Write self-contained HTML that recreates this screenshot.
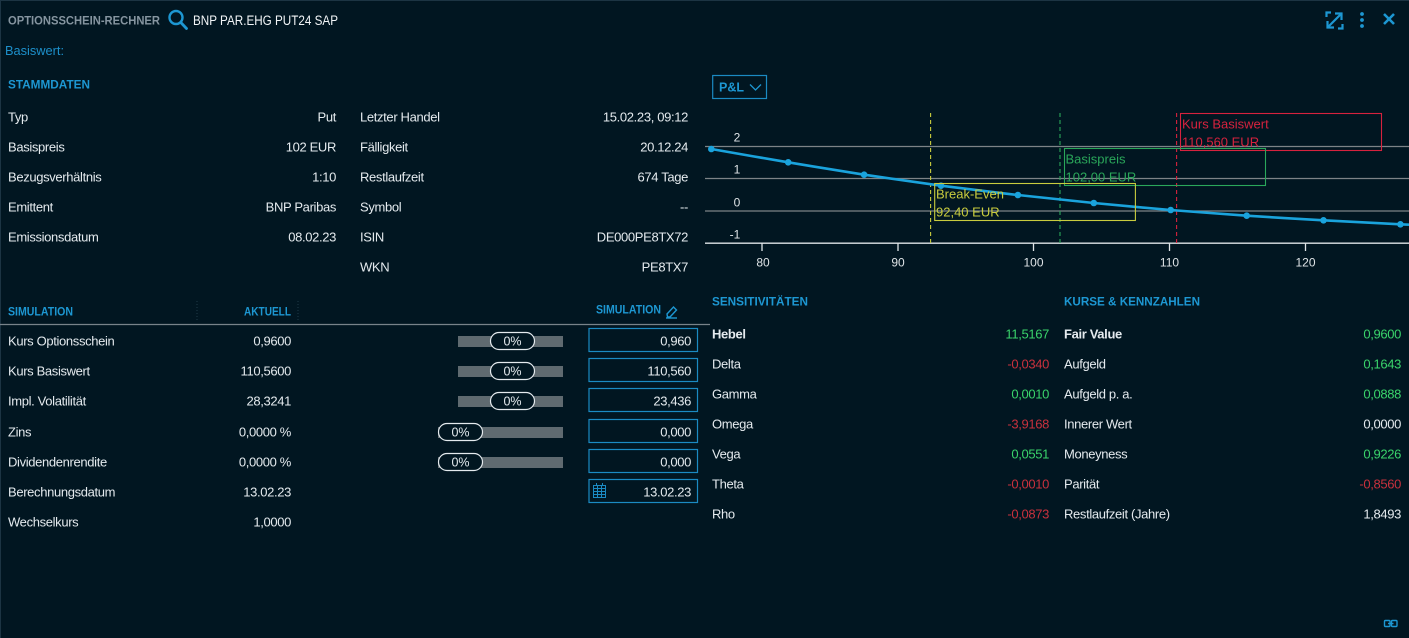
<!DOCTYPE html>
<html>
<head>
<meta charset="utf-8">
<style>
html,body{margin:0;padding:0;background:#011621;}
body{width:1409px;height:638px;overflow:hidden;}
svg{display:block;font-family:"Liberation Sans",sans-serif;}
.w{fill:#e4eaee;font-size:13px;letter-spacing:-0.35px;}
.b{font-weight:bold;}
.hd{fill:#1d97d2;font-weight:bold;font-size:12px;}
.g{fill:#3ad46b;font-size:13px;letter-spacing:-0.35px;}
.r{fill:#c8313d;font-size:13px;letter-spacing:-0.35px;}
</style>
</head>
<body>
<svg width="1409" height="638" viewBox="0 0 1409 638" xmlns="http://www.w3.org/2000/svg">
<rect x="0" y="0" width="1409" height="638" fill="#011621"/>
<rect x="0.5" y="0.5" width="1409" height="640" fill="none" stroke="#1c3443" stroke-width="1"/>

<!-- Header -->
<text x="8" y="20.5" dominant-baseline="central" fill="#8695a0" font-weight="bold" font-size="12" textLength="152" lengthAdjust="spacingAndGlyphs">OPTIONSSCHEIN-RECHNER</text>
<circle cx="176" cy="17.5" r="6.5" fill="none" stroke="#1d97d2" stroke-width="2.4"/>
<line x1="180.8" y1="22.5" x2="186.5" y2="28.5" stroke="#1d97d2" stroke-width="2.8" stroke-linecap="round"/>
<text x="193" y="20.5" dominant-baseline="central" fill="#f2f5f7" font-size="13.5" textLength="145" lengthAdjust="spacingAndGlyphs">BNP PAR.EHG PUT24 SAP</text>

<!-- top right icons -->
<g stroke="#1d97d2" stroke-width="2.2" fill="none">
<polyline points="1326.5,17 1326.5,12.5 1331,12.5"/>
<polyline points="1342.5,24 1342.5,28.5 1338,28.5"/>
<line x1="1328" y1="27" x2="1341" y2="14"/>
<polyline points="1335,13.5 1341.5,13.5 1341.5,20"/>
<polyline points="1327.5,21 1327.5,27.5 1334,27.5"/>
<line x1="1384" y1="14" x2="1394" y2="24" stroke-width="2.6"/>
<line x1="1394" y1="14" x2="1384" y2="24" stroke-width="2.6"/>
</g>
<g fill="#1d97d2"><circle cx="1362" cy="14" r="1.9"/><circle cx="1362" cy="20" r="1.9"/><circle cx="1362" cy="26" r="1.9"/></g>

<text x="5" y="50.5" dominant-baseline="central" fill="#1d90cb" font-size="13" textLength="59" lengthAdjust="spacingAndGlyphs">Basiswert:</text>

<!-- STAMMDATEN -->
<text x="8" y="84.5" dominant-baseline="central" class="hd" textLength="82" lengthAdjust="spacingAndGlyphs">STAMMDATEN</text>
<g dominant-baseline="central" transform="translate(0,1)">
<text x="8" y="116" class="w">Typ</text>
<text x="336" y="116" class="w" text-anchor="end">Put</text>
<text x="8" y="146" class="w">Basispreis</text>
<text x="336" y="146" class="w" text-anchor="end">102 EUR</text>
<text x="8" y="176" class="w">Bezugsverhältnis</text>
<text x="336" y="176" class="w" text-anchor="end">1:10</text>
<text x="8" y="206" class="w">Emittent</text>
<text x="336" y="206" class="w" text-anchor="end">BNP Paribas</text>
<text x="8" y="236" class="w">Emissionsdatum</text>
<text x="336" y="236" class="w" text-anchor="end">08.02.23</text>

<text x="360" y="116" class="w">Letzter Handel</text>
<text x="688" y="116" class="w" text-anchor="end">15.02.23, 09:12</text>
<text x="360" y="146" class="w">Fälligkeit</text>
<text x="688" y="146" class="w" text-anchor="end">20.12.24</text>
<text x="360" y="176" class="w">Restlaufzeit</text>
<text x="688" y="176" class="w" text-anchor="end">674 Tage</text>
<text x="360" y="206" class="w">Symbol</text>
<text x="688" y="206" class="w" text-anchor="end">--</text>
<text x="360" y="236" class="w">ISIN</text>
<text x="688" y="236" class="w" text-anchor="end">DE000PE8TX72</text>
<text x="360" y="266" class="w">WKN</text>
<text x="688" y="266" class="w" text-anchor="end">PE8TX7</text>
</g>

<!-- SIMULATION -->
<text x="8" y="312.5" dominant-baseline="central" fill="#1d97d2" font-weight="bold" font-size="11.5" textLength="65" lengthAdjust="spacingAndGlyphs">SIMULATION</text>
<text x="244" y="312.5" dominant-baseline="central" fill="#1d97d2" font-weight="bold" font-size="11.5" textLength="47" lengthAdjust="spacingAndGlyphs">AKTUELL</text>
<text x="596" y="310.5" dominant-baseline="central" fill="#1d97d2" font-weight="bold" font-size="11.5" textLength="65" lengthAdjust="spacingAndGlyphs">SIMULATION</text>
<g stroke="#1d97d2" stroke-width="1.4" fill="none">
<path d="M667,314 L673.5,307 L676.5,310 L670,317 L667.5,317 Z"/>
<line x1="666" y1="318" x2="677" y2="318"/>
</g>
<line x1="197" y1="301" x2="197" y2="322" stroke="#1f3a48" stroke-width="1" stroke-dasharray="1,2"/>
<line x1="298" y1="301" x2="298" y2="322" stroke="#1f3a48" stroke-width="1" stroke-dasharray="1,2"/>
<line x1="0" y1="324.5" x2="710" y2="324.5" stroke="#78838a" stroke-width="1.2"/>

<g dominant-baseline="central" transform="translate(0,1)">
<text x="8" y="340" class="w">Kurs Optionsschein</text>
<text x="291" y="340" class="w" text-anchor="end">0,9600</text>
<text x="8" y="370" class="w">Kurs Basiswert</text>
<text x="291" y="370" class="w" text-anchor="end">110,5600</text>
<text x="8" y="400" class="w">Impl. Volatilität</text>
<text x="291" y="400" class="w" text-anchor="end">28,3241</text>
<text x="8" y="431" class="w">Zins</text>
<text x="291" y="431" class="w" text-anchor="end">0,0000 %</text>
<text x="8" y="461" class="w">Dividendenrendite</text>
<text x="291" y="461" class="w" text-anchor="end">0,0000 %</text>
<text x="8" y="491" class="w">Berechnungsdatum</text>
<text x="291" y="491" class="w" text-anchor="end">13.02.23</text>
<text x="8" y="521" class="w">Wechselkurs</text>
<text x="291" y="521" class="w" text-anchor="end">1,0000</text>
</g>

<!-- sliders -->
<g>
<rect x="458" y="336" width="105" height="11" fill="#5f6a70"/>
<rect x="490.5" y="332.5" width="44" height="17" rx="8.5" fill="#011621" stroke="#e4eaee" stroke-width="1.2"/>
<text x="512.5" y="341.5" dominant-baseline="central" text-anchor="middle" fill="#e4eaee" font-size="12.5">0%</text>

<rect x="458" y="366" width="105" height="11" fill="#5f6a70"/>
<rect x="490.5" y="362.5" width="44" height="17" rx="8.5" fill="#011621" stroke="#e4eaee" stroke-width="1.2"/>
<text x="512.5" y="371.5" dominant-baseline="central" text-anchor="middle" fill="#e4eaee" font-size="12.5">0%</text>

<rect x="458" y="396" width="105" height="11" fill="#5f6a70"/>
<rect x="490.5" y="392.5" width="44" height="17" rx="8.5" fill="#011621" stroke="#e4eaee" stroke-width="1.2"/>
<text x="512.5" y="401.5" dominant-baseline="central" text-anchor="middle" fill="#e4eaee" font-size="12.5">0%</text>

<rect x="438" y="427" width="125" height="11" fill="#5f6a70"/>
<rect x="438.5" y="423.5" width="44" height="17" rx="8.5" fill="#011621" stroke="#e4eaee" stroke-width="1.2"/>
<text x="460.5" y="432.5" dominant-baseline="central" text-anchor="middle" fill="#e4eaee" font-size="12.5">0%</text>

<rect x="438" y="457" width="125" height="11" fill="#5f6a70"/>
<rect x="438.5" y="453.5" width="44" height="17" rx="8.5" fill="#011621" stroke="#e4eaee" stroke-width="1.2"/>
<text x="460.5" y="462.5" dominant-baseline="central" text-anchor="middle" fill="#e4eaee" font-size="12.5">0%</text>
</g>

<!-- inputs -->
<g fill="none" stroke="#1b8ac2" stroke-width="1.2">
<rect x="589" y="328.5" width="108.5" height="23"/>
<rect x="589" y="358.5" width="108.5" height="23"/>
<rect x="589" y="388.5" width="108.5" height="23"/>
<rect x="589" y="419.5" width="108.5" height="23"/>
<rect x="589" y="449.5" width="108.5" height="23"/>
<rect x="589" y="479.5" width="108.5" height="23"/>
</g>
<g dominant-baseline="central" transform="translate(0,0.5)">
<text x="691" y="340.5" class="w" text-anchor="end">0,960</text>
<text x="691" y="370.5" class="w" text-anchor="end">110,560</text>
<text x="691" y="400.5" class="w" text-anchor="end">23,436</text>
<text x="691" y="431.5" class="w" text-anchor="end">0,000</text>
<text x="691" y="461.5" class="w" text-anchor="end">0,000</text>
<text x="691" y="491.5" class="w" text-anchor="end">13.02.23</text>
</g>
<!-- calendar icon -->
<g stroke="#1b8ac2" stroke-width="1" fill="none">
<rect x="593.5" y="485.5" width="12" height="12"/>
<line x1="593.5" y1="488.5" x2="605.5" y2="488.5"/>
<line x1="593.5" y1="491.5" x2="605.5" y2="491.5"/>
<line x1="593.5" y1="494.5" x2="605.5" y2="494.5"/>
<line x1="597.5" y1="485.5" x2="597.5" y2="497.5"/>
<line x1="601.5" y1="485.5" x2="601.5" y2="497.5"/>
<line x1="596.5" y1="483" x2="596.5" y2="486"/>
<line x1="602.5" y1="483" x2="602.5" y2="486"/>
</g>

<!-- CHART -->
<rect x="712.7" y="75.5" width="53.8" height="23" fill="none" stroke="#1b8ac2" stroke-width="1.2"/>
<text x="719" y="87.5" dominant-baseline="central" fill="#1d97d2" font-weight="bold" font-size="12.5">P&amp;L</text>
<polyline points="750,84.5 755.5,90 761,84.5" fill="none" stroke="#1d97d2" stroke-width="1.3"/>

<g stroke="#7d8387" stroke-width="1.2">
<line x1="705" y1="146.5" x2="1409" y2="146.5"/>
<line x1="705" y1="178.5" x2="1409" y2="178.5"/>
<line x1="705" y1="211" x2="1409" y2="211"/>
</g>
<line x1="705" y1="243.2" x2="1409" y2="243.2" stroke="#dfe4e7" stroke-width="1.4"/>
<g stroke="#dfe4e7" stroke-width="1.3">
<line x1="762" y1="243" x2="762" y2="251"/>
<line x1="898" y1="243" x2="898" y2="251"/>
<line x1="1033.5" y1="243" x2="1033.5" y2="251"/>
<line x1="1169.5" y1="243" x2="1169.5" y2="251"/>
<line x1="1305.5" y1="243" x2="1305.5" y2="251"/>
</g>
<g fill="#dfe4e7" font-size="12" dominant-baseline="central" text-anchor="middle">
<text x="737" y="137.5">2</text>
<text x="737" y="169.5">1</text>
<text x="737" y="202.5">0</text>
<text x="735" y="234.5">-1</text>
<text x="763" y="262.5">80</text>
<text x="898" y="262.5">90</text>
<text x="1033.5" y="262.5">100</text>
<text x="1169.5" y="262.5">110</text>
<text x="1305.5" y="262.5">120</text>
</g>

<!-- dashed lines -->
<line x1="930.6" y1="113" x2="930.6" y2="243" stroke="#c9cc3e" stroke-width="1.1" stroke-dasharray="4,3"/>
<line x1="1060" y1="113" x2="1060" y2="243" stroke="#2aa75a" stroke-width="1.1" stroke-dasharray="4,3"/>
<line x1="1176.6" y1="113" x2="1176.6" y2="243" stroke="#d6223e" stroke-width="1.1" stroke-dasharray="4,3"/>

<!-- curve -->
<path d="M711.3,149 C737,153.5 762.5,158 788.2,162.3 C813.5,166.5 839,170.8 864.1,174.7 C889.8,178.6 915.5,182.2 941,185.7 C966.8,189 992.3,192.1 1017.9,195 C1043.2,197.8 1068.5,200.5 1093.8,203 C1119.5,205.5 1145,207.8 1170.7,210 C1196,212 1221.5,213.9 1246.7,215.7 C1272.2,217.3 1298,218.9 1323.5,220.3 C1349,221.7 1374.8,223 1400.4,224.3 L1409,224.7" fill="none" stroke="#1aa3dc" stroke-width="2.6"/>
<g fill="#1aa3dc">
<circle cx="711.3" cy="149" r="3.3"/>
<circle cx="788.2" cy="162.3" r="3.3"/>
<circle cx="864.1" cy="174.7" r="3.3"/>
<circle cx="941" cy="185.7" r="3.3"/>
<circle cx="1017.9" cy="195" r="3.3"/>
<circle cx="1093.8" cy="203" r="3.3"/>
<circle cx="1170.7" cy="210" r="3.3"/>
<circle cx="1246.7" cy="215.7" r="3.3"/>
<circle cx="1323.5" cy="220.3" r="3.3"/>
<circle cx="1400.4" cy="224.3" r="3.3"/>
</g>

<!-- annotation boxes -->
<rect x="1180.5" y="113.5" width="201" height="37" fill="none" stroke="#d6223e" stroke-width="1.1"/>
<text x="1182" y="124" dominant-baseline="central" fill="#d6223e" font-size="13">Kurs Basiswert</text>
<text x="1182" y="142" dominant-baseline="central" fill="#d6223e" font-size="13">110,560 EUR</text>

<rect x="1064.5" y="148.5" width="201" height="37" fill="none" stroke="#2aa75a" stroke-width="1.1"/>
<text x="1065.5" y="159" dominant-baseline="central" fill="#2aa75a" font-size="13">Basispreis</text>
<text x="1065.5" y="177" dominant-baseline="central" fill="#2aa75a" font-size="13">102,00 EUR</text>

<rect x="934.7" y="183.5" width="200.7" height="37" fill="none" stroke="#c9cc3e" stroke-width="1.1"/>
<text x="936" y="194" dominant-baseline="central" fill="#c9cc3e" font-size="13">Break-Even</text>
<text x="936" y="212" dominant-baseline="central" fill="#c9cc3e" font-size="13">92,40 EUR</text>

<!-- SENSITIVITÄTEN / KURSE -->
<text x="712" y="301.5" dominant-baseline="central" class="hd" textLength="96" lengthAdjust="spacingAndGlyphs">SENSITIVITÄTEN</text>
<text x="1064" y="301.5" dominant-baseline="central" class="hd" textLength="136" lengthAdjust="spacingAndGlyphs">KURSE &amp; KENNZAHLEN</text>
<g dominant-baseline="central" transform="translate(0,1)">
<text x="712" y="333" class="w b">Hebel</text>
<text x="1049" y="333" class="g" text-anchor="end">11,5167</text>
<text x="712" y="363" class="w">Delta</text>
<text x="1049" y="363" class="r" text-anchor="end">-0,0340</text>
<text x="712" y="393" class="w">Gamma</text>
<text x="1049" y="393" class="g" text-anchor="end">0,0010</text>
<text x="712" y="423" class="w">Omega</text>
<text x="1049" y="423" class="r" text-anchor="end">-3,9168</text>
<text x="712" y="453" class="w">Vega</text>
<text x="1049" y="453" class="g" text-anchor="end">0,0551</text>
<text x="712" y="483" class="w">Theta</text>
<text x="1049" y="483" class="r" text-anchor="end">-0,0010</text>
<text x="712" y="513" class="w">Rho</text>
<text x="1049" y="513" class="r" text-anchor="end">-0,0873</text>

<text x="1064" y="333" class="w b">Fair Value</text>
<text x="1401" y="333" class="g" text-anchor="end">0,9600</text>
<text x="1064" y="363" class="w">Aufgeld</text>
<text x="1401" y="363" class="g" text-anchor="end">0,1643</text>
<text x="1064" y="393" class="w">Aufgeld p. a.</text>
<text x="1401" y="393" class="g" text-anchor="end">0,0888</text>
<text x="1064" y="423" class="w">Innerer Wert</text>
<text x="1401" y="423" class="w" text-anchor="end">0,0000</text>
<text x="1064" y="453" class="w">Moneyness</text>
<text x="1401" y="453" class="g" text-anchor="end">0,9226</text>
<text x="1064" y="483" class="w">Parität</text>
<text x="1401" y="483" class="r" text-anchor="end">-0,8560</text>
<text x="1064" y="513" class="w">Restlaufzeit (Jahre)</text>
<text x="1401" y="513" class="w" text-anchor="end">1,8493</text>
</g>

<!-- link icon bottom right -->
<g fill="none" stroke="#1d97d2" stroke-width="1.4">
<rect x="1384.5" y="620.5" width="5.5" height="6" rx="1"/>
<rect x="1391.5" y="620.5" width="5.5" height="6" rx="1"/>
<line x1="1388" y1="623.5" x2="1393.5" y2="623.5"/>
</g>
</svg>
</body>
</html>
